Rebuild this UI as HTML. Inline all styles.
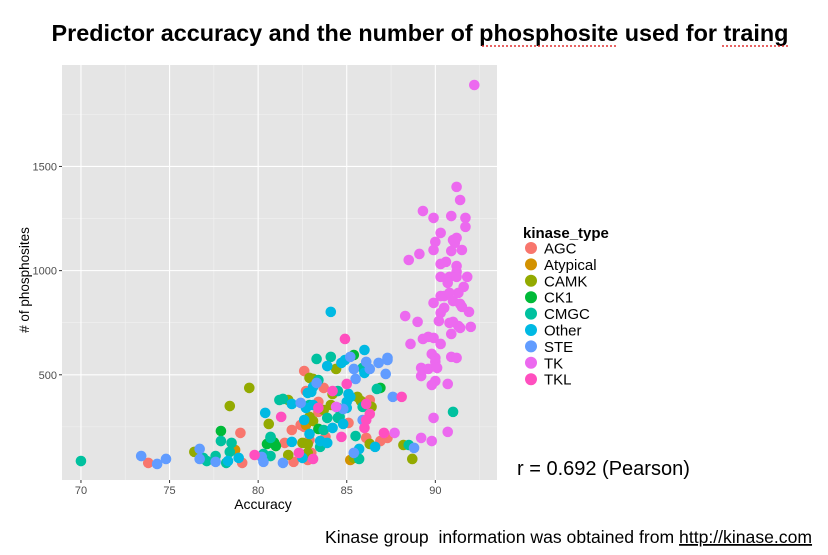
<!DOCTYPE html>
<html><head><meta charset="utf-8"><style>
body{margin:0;background:#fff;width:828px;height:555px;overflow:hidden;font-family:"Liberation Sans",sans-serif}
</style></head><body>
<svg width="828" height="555" style="position:absolute;left:0;top:0;font-family:'Liberation Sans',sans-serif">
<text x="420" y="41" text-anchor="middle" font-size="23.4" font-weight="bold">Predictor accuracy and the number of phosphosite used for traing</text>
<line x1="482" y1="46" x2="617" y2="46" stroke="#e03030" stroke-width="1.5" stroke-dasharray="2,2"/>
<line x1="722" y1="46" x2="788" y2="46" stroke="#e03030" stroke-width="1.5" stroke-dasharray="2,2"/>
<rect x="62" y="65" width="435" height="415" fill="#E5E5E5"/>
<g id="grid"></g>
<g id="pts"></g>
<g id="axes"></g>
<text x="263" y="509" text-anchor="middle" font-size="14">Accuracy</text>
<text transform="translate(29,280) rotate(-90)" text-anchor="middle" font-size="13.5"># of phosphosites</text>
<text x="523" y="238" font-size="15" font-weight="bold">kinase_type</text>
<g id="legend"></g>
<text x="517" y="475" font-size="20">r = 0.692 (Pearson)</text>
<text x="325" y="543" font-size="17.6" xml:space="preserve">Kinase group  information was obtained from <tspan text-decoration="underline">http://kinase.com</tspan></text>
</svg>
<script>
const types=["AGC","Atypical","CAMK","CK1","CMGC","Other","STE","TK","TKL"];
const colors=["#F8766D","#D39200","#93AA00","#00BA38","#00C19F","#00B9E3","#619CFF","#EC69EF","#FF4FBF"];
const xTicks=[70,75,80,85,90];
const yTicks=[500,1000,1500];
const agcX=[73.8,79.0,79.1,82.6,83.7,82.7,86.3,83.4,83.4,85.1,81.9,82.4,82.6,83.8,82.9,81.5,82.0,82.8,83.0,86.1,86.9,87.3];
const agcY=[77,221,77,518,437,422,379,370,322,269,235,259,250,202,187,173,82,91,125,197,182,197];
const atypX=[78.7,82.7,85.2];
const atypY=[139,259,91];
const camkX=[76.4,78.4,79.5,80.6,84.4,82.9,83.1,84.2,85.6,85.8,86.4,81.7,83.7,84.1,82.9,83.1,82.5,82.8,81.7,82.8,86.3,85.4,88.2,88.7];
const camkY=[130,350,437,264,528,485,480,408,394,374,346,379,331,355,298,278,173,168,115,125,168,101,163,96];
const ck1X=[77.9,80.5,81.0,85.4,86.9,83.4,80.9];
const ck1Y=[230,168,158,595,437,240,175];
const cmgcX=[70.0,76.9,77.1,77.6,78.2,78.4,78.5,77.9,80.7,80.3,80.7,81.2,83.3,84.1,85.9,83.4,84.5,86.7,85.9,81.4,82.9,84.5,84.6,84.5,83.9,83.7,83.5,80.7,85.5,85.7,88.5,91.0];
const cmgcY=[86,101,86,110,77,130,173,182,197,120,110,379,576,586,533,475,422,432,346,384,355,341,298,293,293,235,154,202,206,96,163,322];
const otherX=[78.3,78.9,80.4,84.1,83.9,84.7,84.9,86.0,86.0,83.1,83.0,82.8,85.1,85.2,85.0,81.9,83.1,82.7,85.0,84.8,82.6,84.2,83.5,82.9,83.9,81.9,82.5,85.7,86.6];
const otherY=[86,101,317,802,542,557,571,619,509,442,418,413,408,394,370,360,355,341,341,264,283,245,182,216,173,178,101,144,154];
const steX=[73.4,74.3,74.8,76.7,76.7,77.6,80.2,80.3,85.2,85.4,86.3,86.1,86.8,87.3,87.3,87.2,85.5,83.3,87.6,82.4,84.8,85.9,81.4,85.4,88.8];
const steY=[110,72,96,144,96,82,106,82,586,528,528,562,557,581,571,504,480,461,394,365,336,283,77,125,149];
const tkX=[92.2,91.2,91.4,89.3,89.9,90.9,91.7,91.7,90.3,90.0,91.0,91.2,91.1,89.9,90.9,91.5,89.1,88.5,90.3,90.6,91.2,91.2,90.3,90.8,91.2,91.8,90.7,91.6,91.3,90.3,90.5,90.8,91.0,89.9,91.4,90.5,91.5,90.3,91.9,88.3,89.0,90.2,90.8,91.0,91.3,91.4,92.0,90.9,88.6,89.3,89.6,89.9,90.3,89.8,90.0,90.0,90.9,91.2,89.2,89.6,90.1,89.2,89.8,90.0,90.7,89.9,90.7,89.2,89.8,87.7,84.4];
const tkY=[1891,1402,1339,1286,1253,1262,1253,1210,1181,1138,1147,1157,1133,1099,1094,1099,1080,1051,1032,1042,1022,994,970,970,970,970,941,922,893,878,878,893,854,845,840,821,826,797,802,782,754,758,749,754,734,725,730,696,648,672,682,677,648,600,581,562,586,581,533,528,533,494,451,470,456,293,226,197,182,221,346];
const tklX=[84.9,85.0,84.2,88.1,86.1,83.4,81.3,86.3,86.1,86.0,87.1,84.7,82.3,83.1,79.8];
const tklY=[672,456,422,394,360,341,298,312,283,245,221,202,125,96,115];
const seriesX=[agcX,atypX,camkX,ck1X,cmgcX,otherX,steX,tkX,tklX];
const seriesY=[agcY,atypY,camkY,ck1Y,cmgcY,otherY,steY,tkY,tklY];
const L=62,R=497,T=65,B=480,xMin=68.93,xMax=93.48,yMin=-5,yMax=1987;
const sx=v=>L+(v-xMin)/(xMax-xMin)*(R-L);
const sy=v=>B-(v-yMin)/(yMax-yMin)*(B-T);
const NS="http://www.w3.org/2000/svg";
function mk(tag,attrs,parent){const e=document.createElementNS(NS,tag);for(const k in attrs)e.setAttribute(k,attrs[k]);parent.appendChild(e);return e;}
const grid=document.getElementById('grid'),axes=document.getElementById('axes'),pts=document.getElementById('pts'),leg=document.getElementById('legend');
[72.5,77.5,82.5,87.5,92.5].forEach(v=>{const l=mk('line',{x1:sx(v),x2:sx(v),y1:T,y2:B,stroke:'#F2F2F2','stroke-width':0.6},grid);

});
[250,750,1250,1750].forEach(v=>{const l=mk('line',{x1:L,x2:R,y1:sy(v),y2:sy(v),stroke:'#F2F2F2','stroke-width':0.6},grid);

});
xTicks.forEach(v=>{const l=mk('line',{x1:sx(v),x2:sx(v),y1:T,y2:B,stroke:'#fff','stroke-width':1.1},grid);


const t=mk('text',{x:sx(v),y:B+14,'text-anchor':'middle','font-size':11,fill:'#4d4d4d'},axes);t.textContent=v;


const k=mk('line',{x1:sx(v),x2:sx(v),y1:B,y2:B+3,stroke:'#333'},axes);

});
yTicks.forEach(v=>{const l=mk('line',{x1:L,x2:R,y1:sy(v),y2:sy(v),stroke:'#fff','stroke-width':1.1},grid);


const t=mk('text',{x:L-5,y:sy(v)+4,'text-anchor':'end','font-size':11,fill:'#4d4d4d'},axes);t.textContent=v;


const k=mk('line',{x1:L-3,x2:L,y1:sy(v),y2:sy(v),stroke:'#333'},axes);

});
seriesX.forEach((xs,si)=>{xs.forEach((x,i)=>{const y=seriesY[si][i];if(y===undefined)return;
const c=mk('circle',{cx:sx(x),cy:sy(y),r:5.3,fill:colors[si]},pts);

});});
types.forEach((t,i)=>{const y=248+i*16.4;
const c=mk('circle',{cx:531,cy:y,r:6,fill:colors[i]},leg);


const s=mk('text',{x:544,y:y+5.5,'font-size':15},leg);s.textContent=t;

});
</script>
</body></html>
